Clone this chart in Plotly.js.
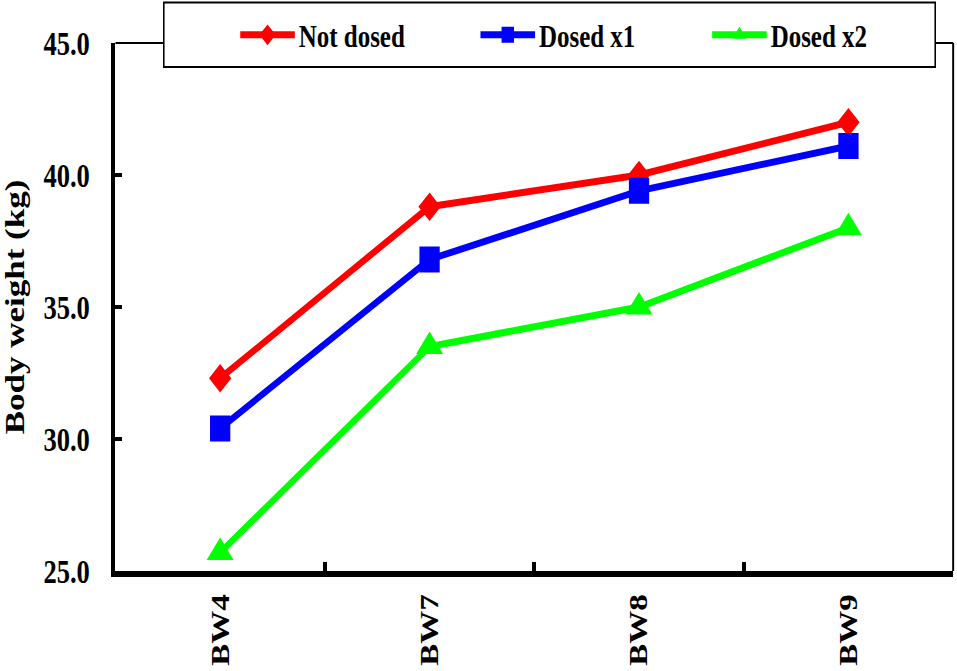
<!DOCTYPE html>
<html>
<head>
<meta charset="utf-8">
<script src="https://cdn.plot.ly/plotly-3.0.1.min.js"></script>
<style>
  html, body { margin: 0; padding: 0; overflow: hidden; background: #ffffff; }
  #wrap { width: 957px; height: 671px; overflow: hidden; position: relative; }
  #chart { width: 1227px; height: 671px; transform: scaleX(0.78); transform-origin: 0 0; }
</style>
</head>
<body>
<div id="wrap"><div id="chart"></div></div>
<script>
// ---- data ----
const categories = ['BW4', 'BW7', 'BW8', 'BW9'];
const notDosed = [32.3, 38.8, 40.0, 42.0];
const dosedX1 = [30.4, 36.8, 39.4, 41.1];
const dosedX2 = [25.7, 33.5, 35.0, 38.0];
const seriesNames = ['Not dosed', 'Dosed x1', 'Dosed x2'];
const yTickVals = [25, 30, 35, 40, 45];
const yTitle = 'Body weight (kg)';

const FONT = 'Liberation Serif, Times New Roman, serif';

const traces = [
  { x: categories, y: notDosed, name: seriesNames[0], type: 'scatter', mode: 'lines+markers',
    line: { color: '#FF0000', width: 7 }, marker: { symbol: 'diamond', size: 22, color: '#FF0000' },
    legend: 'legend' },
  { x: categories, y: dosedX1, name: seriesNames[1], type: 'scatter', mode: 'lines+markers',
    line: { color: '#0000FF', width: 7 }, marker: { symbol: 'square', size: 26, color: '#0000FF' },
    legend: 'legend2' },
  { x: categories, y: dosedX2, name: seriesNames[2], type: 'scatter', mode: 'lines+markers',
    line: { color: '#00FF00', width: 7 }, marker: { symbol: 'triangle-up', size: 30, color: '#00FF00' },
    legend: 'legend3' }
];

const L = 148, R = 5, T = 43, B = 100, W = 1227, H = 671;
const pw = W - L - R, ph = H - T - B;
function px2x(p) { return (p - L) / pw; }
function px2y(p) { return (H - B - p) / ph; }

const legendFont = { family: FONT, size: 32, color: '#000000', weight: 'bold' };
function legendAt(xpx) {
  return { x: px2x(xpx), xanchor: 'left', y: px2y(35), yanchor: 'middle', orientation: 'h',
    bgcolor: 'rgba(0,0,0,0)', borderwidth: 0, font: legendFont, itemwidth: 70 };
}

const layout = {
  width: W, height: H,
  margin: { l: L, r: R, t: T, b: B, pad: 0 },
  paper_bgcolor: '#ffffff', plot_bgcolor: '#ffffff',
  font: { family: FONT, color: '#000000' },
  showlegend: true,
  legend: legendAt(303),
  legend2: legendAt(611),
  legend3: legendAt(908),
  xaxis: {
    type: 'category', range: [-0.5, 3.5], tickson: 'boundaries',
    showline: true, linecolor: '#000000', linewidth: 6,
    ticks: 'inside', ticklen: 9, tickwidth: 5, tickcolor: '#000000',
    tickangle: -90, showgrid: false, zeroline: false,
    tickfont: { family: FONT, size: 33, color: '#000000', weight: 'bold' },
    ticklabelstandoff: 4, fixedrange: true
  },
  yaxis: {
    range: [25, 45], tickvals: yTickVals, tickformat: '.1f',
    showline: true, linecolor: '#000000', linewidth: 6,
    ticks: 'inside', ticklen: 9, tickwidth: 4.5, tickcolor: '#000000',
    showgrid: false, zeroline: false,
    tickfont: { family: FONT, size: 34, color: '#000000', weight: 'bold' },
    ticklabelstandoff: 20,
    title: { text: yTitle, font: { family: FONT, size: 35, color: '#000000', weight: 'bold' }, standoff: 24 },
    fixedrange: true
  },
  shapes: [
    { type: 'line', xref: 'paper', yref: 'paper', x0: 0, x1: 1, y0: 1, y1: 1, line: { color: '#000000', width: 2 } },
    { type: 'line', xref: 'paper', yref: 'paper', x0: 1, x1: 1, y0: 0, y1: 1, line: { color: '#000000', width: 2.5 } },
    { type: 'rect', xref: 'paper', yref: 'paper', x0: px2x(210), x1: px2x(1199), y0: px2y(67), y1: px2y(2.5),
      fillcolor: '#ffffff', line: { color: '#000000', width: 2 } }
  ]
};

Plotly.newPlot('chart', traces, layout, { displayModeBar: false, staticPlot: true });
</script>
</body>
</html>
